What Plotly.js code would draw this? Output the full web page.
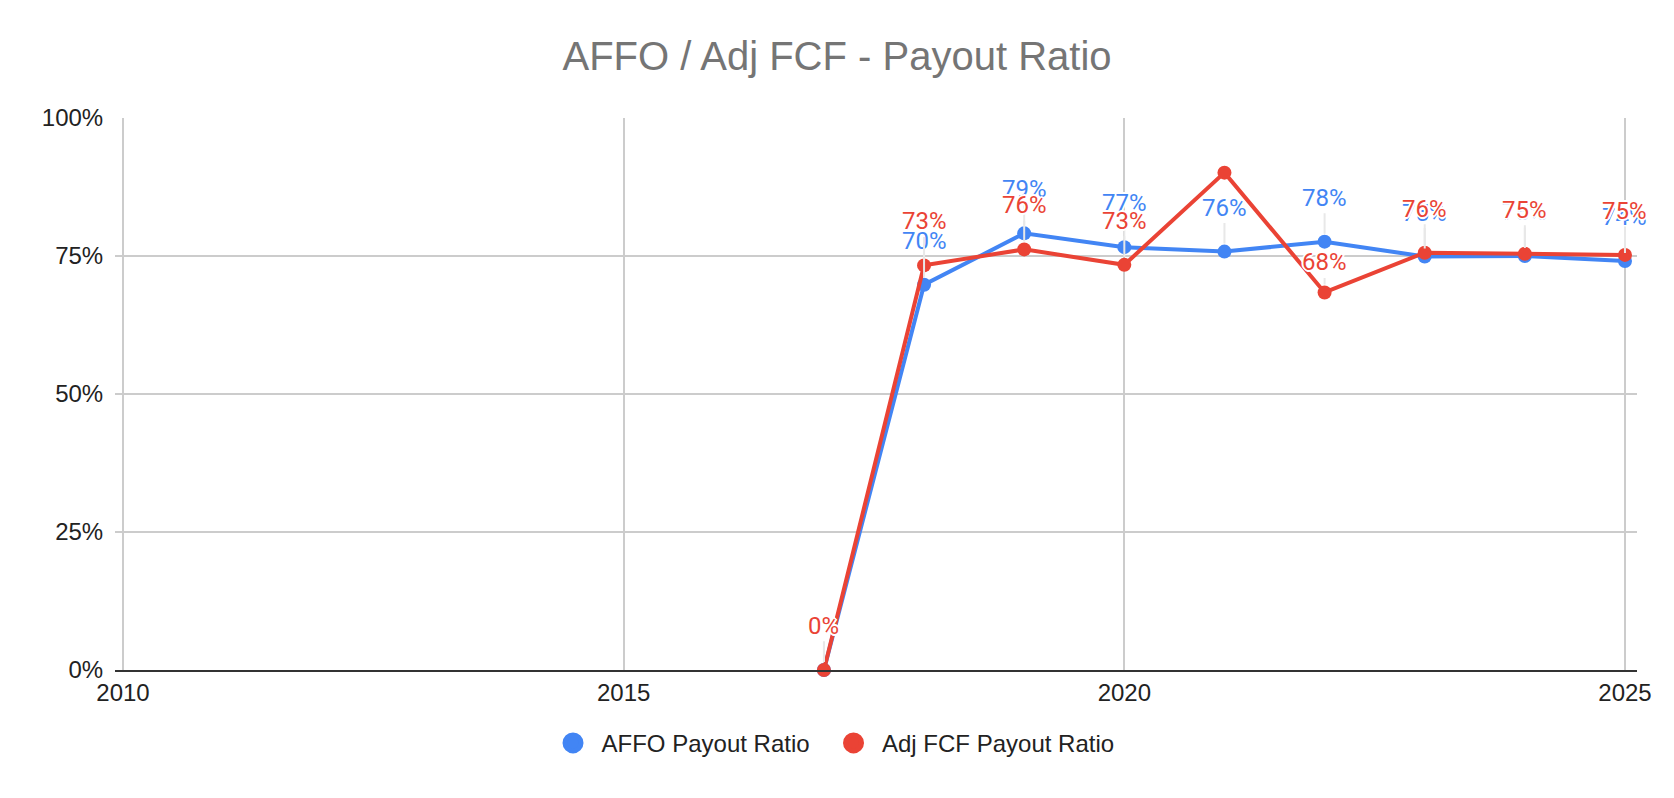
<!DOCTYPE html>
<html>
<head>
<meta charset="utf-8">
<script src="https://cdn.plot.ly/plotly-3.0.1.min.js"></script>
<style>
  html, body { margin: 0; padding: 0; background: #fff; }
  #chart { width: 1674px; height: 798px; }
</style>
</head>
<body>
<div id="chart"></div>
<script>
// years and payout ratios
const years = [2017, 2018, 2019, 2020, 2021, 2022, 2023, 2024, 2025];
const affoRatio = [0, 0.698, 0.791, 0.766, 0.758, 0.776, 0.749, 0.750, 0.741];
const fcfRatio = [0, 0.733, 0.762, 0.734, 0.901, 0.684, 0.756, 0.754, 0.752];
const seriesNames = ['AFFO Payout Ratio', 'Adj FCF Payout Ratio'];
const xTicks = [2010, 2015, 2020, 2025];
const yTicks = [0, 0.25, 0.5, 0.75, 1];
const yTickText = ['0%', '25%', '50%', '75%', '100%'];

const blue = '#4285f4';
const red = '#ea4335';

// labels that the original chart does not show, and one that sits lower
const hiddenLabels = { 'Adj FCF Payout Ratio': [2021] };
const lowLabels = { 'Adj FCF Payout Ratio': [2022] };

function lineTrace(name, y, color) {
    return {
        x: years,
        y: y,
        name: name,
        type: 'scatter',
        mode: 'lines+markers',
        line: { color: color, width: 4 },
        marker: { color: color, size: 14 },
        cliponaxis: false,
        showlegend: false,
        hoverinfo: 'x+y'
    };
}

// legend-only entries: just a dot, like the original
function legendTrace(name, color, legendId) {
    return {
        x: [null],
        y: [null],
        name: name,
        type: 'scatter',
        mode: 'markers',
        marker: { color: color, size: 16, line: { color: color, width: 5 } },
        legend: legendId,
        showlegend: true
    };
}

const halo = '2px 0 0 #fff, -2px 0 0 #fff, 0 2px 0 #fff, 0 -2px 0 #fff, ' +
    '1px 1px 0 #fff, -1px -1px 0 #fff, 1px -1px 0 #fff, -1px 1px 0 #fff';

function labelAnnotations(name, y, color) {
    const hidden = hiddenLabels[name] || [];
    const low = lowLabels[name] || [];
    return years.map((yr, i) => {
        if (hidden.includes(yr)) return null;
        return {
            x: yr,
            y: y[i],
            xref: 'x',
            yref: 'y',
            text: Math.round(y[i] * 100) + '%',
            showarrow: true,
            arrowhead: 0,
            arrowwidth: 2,
            arrowcolor: '#e8e8e8',
            ax: 0,
            ay: low.includes(yr) ? -30 : -44,
            standoff: 8,
            font: { family: 'Roboto, Arial, sans-serif', size: 24, color: color, shadow: halo }
        };
    }).filter(a => a);
}

const data = [
    lineTrace(seriesNames[0], affoRatio, blue),
    lineTrace(seriesNames[1], fcfRatio, red),
    legendTrace(seriesNames[0], blue, 'legend'),
    legendTrace(seriesNames[1], red, 'legend2')
];

const legendStyle = {
    orientation: 'h',
    xanchor: 'left',
    y: -0.092,
    yanchor: 'top',
    font: { size: 24, color: '#222' },
    itemsizing: 'trace',
    itemwidth: 47
};

const layout = {
    width: 1674,
    height: 798,
    paper_bgcolor: '#fff',
    plot_bgcolor: '#fff',
    font: { family: 'Arial, "Liberation Sans", sans-serif', color: '#222' },
    title: {
        text: 'AFFO / Adj FCF - Payout Ratio',
        font: { size: 40, color: '#757575' },
        x: 0.5,
        xanchor: 'center',
        y: 0.93,
        yanchor: 'middle'
    },
    margin: { l: 115, r: 37, t: 118, b: 128 },
    xaxis: {
        range: [2009.92, 2025.12],
        tickvals: xTicks,
        ticktext: xTicks.map(String),
        showgrid: true,
        gridcolor: '#cccccc',
        gridwidth: 2,
        zeroline: false,
        showline: true,
        linecolor: '#333333',
        linewidth: 2,
        ticks: '',
        tickfont: { size: 24, color: '#222' },
        fixedrange: true
    },
    yaxis: {
        range: [0, 1],
        tickvals: yTicks,
        ticktext: yTickText,
        showgrid: true,
        gridcolor: '#cccccc',
        gridwidth: 2,
        zeroline: false,
        showline: false,
        ticks: 'outside',
        ticklen: 6,
        tickcolor: 'rgba(0,0,0,0)',
        tickfont: { size: 24, color: '#222' },
        fixedrange: true
    },
    legend: Object.assign({ x: 0.2822 }, legendStyle),
    legend2: Object.assign({ x: 0.4665 }, legendStyle),
    annotations: labelAnnotations(seriesNames[0], affoRatio, blue)
        .concat(labelAnnotations(seriesNames[1], fcfRatio, red)),
    showlegend: true
};

Plotly.newPlot('chart', data, layout, { displayModeBar: false, staticPlot: true });
</script>
</body>
</html>
